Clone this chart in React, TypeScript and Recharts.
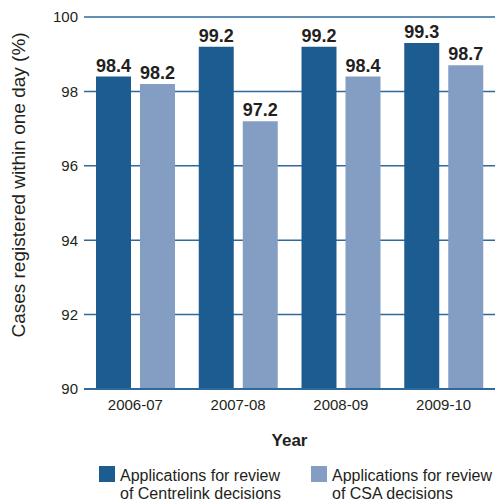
import React from 'react';
import {
  BarChart,
  Bar,
  XAxis,
  YAxis,
  CartesianGrid,
  LabelList,
} from 'recharts';

const years = ['2006-07', '2007-08', '2008-09', '2009-10'];
const centrelink = [98.4, 99.2, 99.2, 99.3];
const csa = [98.2, 97.2, 98.4, 98.7];
const yTicks = [90, 92, 94, 96, 98, 100];

const data = years.map((year, i) => ({
  year,
  centrelink: centrelink[i],
  csa: csa[i],
}));

const DARK = '#1c5c91';
const LIGHT = '#849ec3';
const GRID = '#2f6a9c';
const INK = '#231f20';
const FONT = '"Liberation Sans", Arial, Helvetica, sans-serif';

const legendItems = [
  { color: DARK, lines: ['Applications for review', 'of Centrelink decisions'], x: 99 },
  { color: LIGHT, lines: ['Applications for review', 'of CSA decisions'], x: 311 },
];

// legend sits under the x-axis title, drawn as plain html
function LegendBlock() {
  return (
    <div style={{ position: 'absolute', left: 0, top: 466, width: 495, height: 36 }}>
      {legendItems.map((item) => (
        <div key={item.x} style={{ position: 'absolute', left: item.x, top: 0 }}>
          <div
            style={{
              position: 'absolute',
              left: 0,
              top: 0,
              width: 16,
              height: 16,
              background: item.color,
            }}
          />
          <div
            style={{
              position: 'absolute',
              left: 21,
              top: 1,
              whiteSpace: 'nowrap',
              fontFamily: FONT,
              fontSize: 16,
              lineHeight: '18px',
              color: INK,
            }}
          >
            {item.lines.map((l) => (
              <div key={l}>{l}</div>
            ))}
          </div>
        </div>
      ))}
    </div>
  );
}

function YLabel() {
  return (
    <text
      x={18}
      y={185}
      transform="rotate(-90 18 185)"
      textAnchor="middle"
      dominantBaseline="central"
      fontFamily={FONT}
      fontSize={19}
      fill={INK}
    >
      Cases registered within one day (%)
    </text>
  );
}

export default function App() {
  return (
    <div style={{ position: 'absolute', left: 0, top: 0, width: 495, height: 502, background: '#fff' }}>
      <BarChart
        width={495}
        height={502}
        data={data}
        margin={{ top: 17, right: 0, left: 0, bottom: 56 }}
        barSize={35}
        barGap={9}
        style={{ fontFamily: FONT }}
      >
        <CartesianGrid horizontal vertical={false} stroke={GRID} strokeWidth={1.5} />
        <XAxis
          dataKey="year"
          height={57}
          tickLine={false}
          axisLine={{ stroke: GRID, strokeWidth: 2 }}
          tickMargin={4}
          tick={{ fill: INK, fontSize: 15, fontFamily: FONT }}
          label={{
            value: 'Year',
            position: 'insideBottom',
            offset: 0,
            fill: INK,
            fontSize: 17,
            fontWeight: 'bold',
            fontFamily: FONT,
          }}
        />
        <YAxis
          width={84}
          domain={[90, 100]}
          ticks={yTicks}
          allowDataOverflow
          tickLine={false}
          axisLine={false}
          tickMargin={0}
          tick={{ fill: INK, fontSize: 15, fontFamily: FONT }}
          label={<YLabel />}
        />
        <Bar dataKey="centrelink" fill={DARK} isAnimationActive={false}>
          <LabelList
            dataKey="centrelink"
            position="top"
            offset={5}
            fill={INK}
            fontSize={18}
            fontWeight="bold"
            fontFamily={FONT}
          />
        </Bar>
        <Bar dataKey="csa" fill={LIGHT} isAnimationActive={false}>
          <LabelList
            dataKey="csa"
            position="top"
            offset={5}
            fill={INK}
            fontSize={18}
            fontWeight="bold"
            fontFamily={FONT}
          />
        </Bar>
      </BarChart>
      <LegendBlock />
    </div>
  );
}
